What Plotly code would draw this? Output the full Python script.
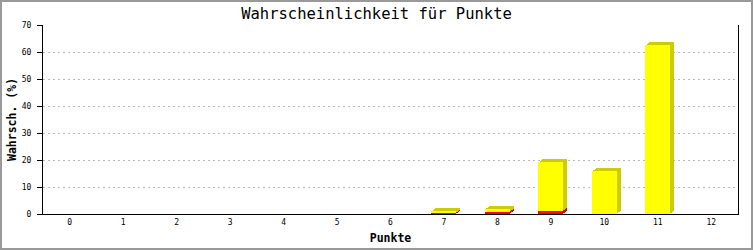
import plotly.graph_objects as go

categories = ["0", "1", "2", "3", "4", "5", "6", "7", "8", "9", "10", "11", "12"]
red_values = [0, 0, 0, 0, 0, 0, 0, 0.45, 0.8, 1.1, 0, 0, 0]
yellow_values = [0, 0, 0, 0, 0, 0, 0, 0.7, 1.1, 18.3, 15.9, 62.6, 0]

W, H = 753, 250
ML, MR, MT, MB = 43, 15, 25, 36
PW, PH = W - ML - MR, H - MT - MB
YMAX = 70
xpos = list(range(len(categories)))
px_x = len(categories) / PW      # category units per pixel
px_y = YMAX / PH                 # data units per pixel
bar_w = 25 * px_x

fig = go.Figure()

def add_series(vals, base_vals, front, shade):
    for k in (3, 2, 1):
        fig.add_trace(go.Bar(
            x=xpos, y=vals,
            base=[b + k * px_y for b in base_vals],
            width=bar_w, offset=-bar_w / 2 + k * 4 / 3 * px_x,
            marker=dict(color=shade, line=dict(width=0)),
            hoverinfo="skip", showlegend=False))
    fig.add_trace(go.Bar(
        x=xpos, y=vals, base=base_vals,
        width=bar_w, offset=-bar_w / 2,
        marker=dict(color=front, line=dict(width=0)),
        showlegend=False))

add_series(red_values, [0] * len(categories), "#ff0000", "#cc0000")
add_series(yellow_values, red_values, "#ffff00", "#cccc00")

mono = "DejaVu Sans Mono"
fig.update_layout(
    width=W, height=H,
    margin=dict(l=ML, r=MR, t=MT, b=MB, pad=0, autoexpand=False),
    paper_bgcolor="white", plot_bgcolor="white",
    barmode="overlay", bargap=0,
    title=dict(text="Wahrscheinlichkeit für Punkte", x=0.5, xanchor="center",
               y=1 - 14 / H, yanchor="middle", yref="container",
               font=dict(family=mono, size=15.5, color="black")),
    xaxis=dict(range=[-0.5, len(categories) - 0.5], tickmode="array",
               tickvals=xpos, ticktext=categories, showgrid=False,
               showline=True, linecolor="black", linewidth=1, ticks="",
               zeroline=False, automargin=False,
               tickfont=dict(family=mono, size=8, color="black"),
               title=dict(text="<b>Punkte</b>", standoff=8,
                          font=dict(family=mono, size=11.5, color="black"))),
    yaxis=dict(range=[0, YMAX], dtick=10, showgrid=True, gridcolor="#bbbbbb",
               griddash="2px,3px", gridwidth=1, automargin=False,
               showline=True, mirror=True, linecolor="black", linewidth=1,
               ticks="outside", ticklen=5, tickcolor="black", zeroline=False,
               ticklabelstandoff=4,
               tickfont=dict(family=mono, size=8, color="black"),
               title=dict(text="<b>Wahrsch. (%)</b>", standoff=2,
                          font=dict(family=mono, size=11.5, color="black"))),
    shapes=[dict(type="rect", xref="paper", yref="paper",
                 x0=(1 - ML) / PW, x1=(W - 1 - ML) / PW,
                 y0=(MT + PH - (H - 1)) / PH, y1=(MT + PH - 1) / PH,
                 line=dict(color="#999999", width=2), fillcolor="rgba(0,0,0,0)",
                 layer="above")],
)

fig.write_html("out.html")
